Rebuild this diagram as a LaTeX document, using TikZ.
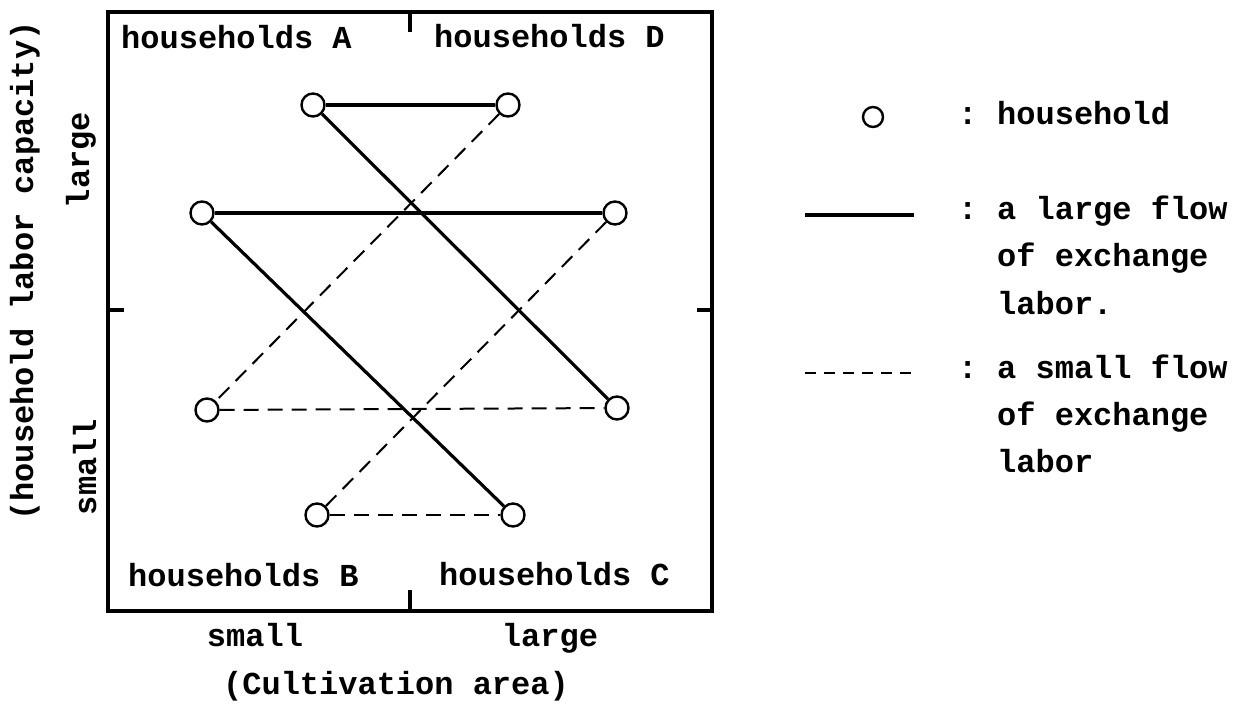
\documentclass[tikz,border=0pt]{standalone}
\usepackage{fontspec}
\setmonofont{Liberation Mono}
\begin{document}
\begin{tikzpicture}[x=1pt,y=-1pt,
  every node/.style={font=\ttfamily\bfseries\fontsize{32}{38}\selectfont, inner sep=0pt},
  hh/.style={circle, draw, line width=2.4pt, minimum size=23pt, inner sep=0pt},
  big/.style={line width=3.2pt},
  little/.style={line width=2pt, dash pattern=on 15pt off 9pt},
  frame/.style={line width=3.5pt},
  lbl/.style={anchor=base west}]
\useasboundingbox (0,0) rectangle (1250,708);
% frame and ticks
\draw[frame] (108,12) rectangle (712,611);
\draw[frame] (410,12) -- (410,32);
\draw[frame] (410,590) -- (410,611);
\draw[frame] (108,310) -- (124,310);
\draw[frame] (697,310) -- (712,310);
% households
\node[hh] (a1) at (313,105) {};
\node[hh] (a2) at (508,105) {};
\node[hh] (b1) at (202,213) {};
\node[hh] (b2) at (615,213) {};
\node[hh] (c1) at (207,410) {};
\node[hh] (c2) at (617,408) {};
\node[hh] (d1) at (317,515) {};
\node[hh] (d2) at (513,515) {};
% flows
\draw[big] (a1) -- (a2);
\draw[big] (a1) -- (c2);
\draw[big] (b1) -- (b2);
\draw[big] (b1) -- (d2);
\draw[little] (a2) -- (c1);
\draw[little] (b2) -- (d1);
\draw[little] (c1) -- (c2);
\draw[little] (d1) -- (d2);
% quadrant labels
\node[lbl] (tA) at (121,49) {households A};
\node[lbl] (tD) at (434,48) {households D};
\node[lbl] (tB) at (128,586) {households B};
\node[lbl] (tC) at (439,585) {households C};
% axes
\node[anchor=base] (xs) at (255,646) {small};
\node[anchor=base] (xl) at (550,646) {large};
\node[anchor=base] (xt) at (396,694) {(Cultivation area)};
\node[anchor=base, rotate=90] (yt) at (33,271) {(household labor capacity)};
\node[anchor=base, rotate=90] (yl) at (89,160) {large};
\node[anchor=base, rotate=90] (ys) at (96,467) {small};
% legend
\node[hh, minimum size=20pt] (lc) at (873,117) {};
\coordinate (ls1) at (805,215);
\coordinate (ls2) at (914,215);
\coordinate (ld1) at (805,373);
\coordinate (ld2) at (918,373);
\draw[big, line width=3.5pt] (ls1) -- (ls2);
\draw[little, dash pattern=on 11pt off 8pt] (ld1) -- (ld2);
\node[lbl] (k1) at (958,125) {:};
\node[lbl] (k2) at (958,220) {:};
\node[lbl] (k3) at (958,378) {:};
\node[lbl] (l1) at (997,125) {household};
\node[lbl] (l2) at (997,220) {a large flow};
\node[lbl] (l3) at (997,267) {of exchange};
\node[lbl] (l4) at (997,315) {labor.};
\node[lbl] (l5) at (997,378) {a small flow};
\node[lbl] (l6) at (997,425) {of exchange};
\node[lbl] (l7) at (997,472) {labor};
\end{tikzpicture}
\end{document}
